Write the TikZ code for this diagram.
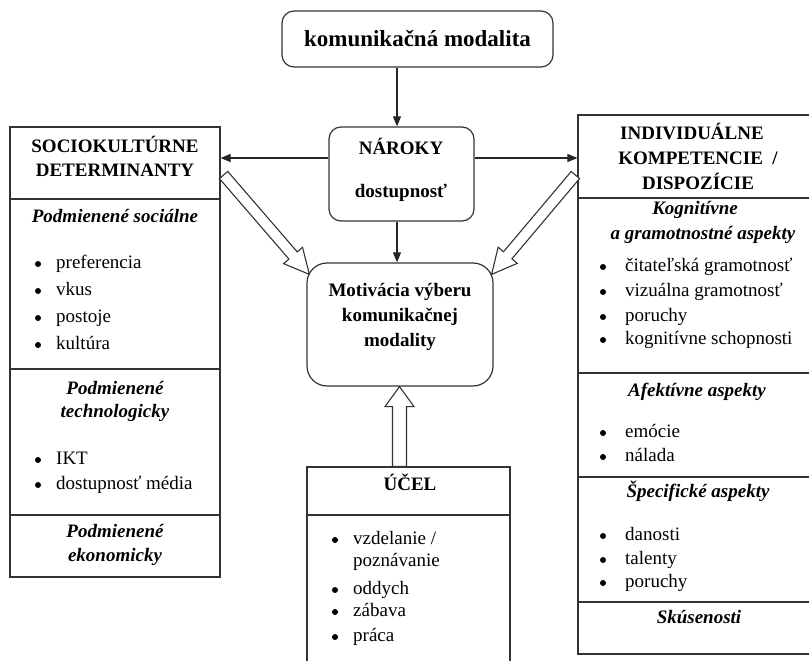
\documentclass[tikz,border=0pt]{standalone}
\usepackage{fontspec}
\setmainfont{Liberation Serif}
\usetikzlibrary{calc,arrows.meta}

% hollow block arrow: tail, tip, shaft half-width, head half-width, head length
\newcommand\hollowarrow[5]{%
  \coordinate (ha-h) at ($(#2)!#5!(#1)$);
  \draw[hollow] ($(#1)!#3!90:(#2)$) -- ($(ha-h)!#3!-90:(#1)$) -- ($(ha-h)!#4!-90:(#1)$)
    -- (#2) -- ($(ha-h)!#4!90:(#1)$) -- ($(ha-h)!#3!90:(#1)$) -- ($(#1)!#3!-90:(#2)$) -- cycle;}

\begin{document}
\begin{tikzpicture}[x=1pt,y=-1pt,
  box/.style={draw=black!80, line width=1.2pt, rectangle, inner sep=0pt},
  rbox/.style={box, rounded corners=12pt},
  txt/.style={inner sep=0pt, text height=13pt, text depth=4pt, font=\fontsize{19}{22}\selectfont},
  hd/.style={txt, font=\fontsize{19}{22}\selectfont\bfseries},
  sub/.style={txt, font=\fontsize{19}{22}\selectfont\bfseries\itshape},
  item/.style={txt, anchor=west},
  dot/.style={circle, fill=black, inner sep=0pt, minimum size=6pt},
  conn/.style={draw=black!85, line width=1.1pt, -{Triangle[length=10pt,width=8pt]}},
  hollow/.style={draw=black!80, line width=1.1pt, fill=white, line join=miter}]

\useasboundingbox (0,0) rectangle (809,661);

% ---- central column ----
\node[rbox, minimum width=271pt, minimum height=56pt,
      font=\fontsize{23}{26}\selectfont\bfseries] (top) at (417.5,39) {komunikačná modalita};

\node[rbox, minimum width=145pt, minimum height=94pt] (nar) at (401.5,174) {};
\node[hd] (narA) at (401,150) {NÁROKY};
\node[hd] (narB) at (401,193) {dostupnosť};

\node[box, rounded corners=20pt, minimum width=186pt, minimum height=123pt] (mot) at (400,324.5) {};
\node[hd] (motA) at (400,292) {Motivácia výberu};
\node[hd] (motB) at (400,317) {komunikačnej};
\node[hd] (motC) at (400,342) {modality};

% ---- left: sociocultural determinants ----
\node[box, minimum width=210pt, minimum height=72pt] (socHead) at (115,163) {};
\node[box, minimum width=210pt, minimum height=170pt] (socA) at (115,284) {};
\node[box, minimum width=210pt, minimum height=146pt] (socB) at (115,442) {};
\node[box, minimum width=210pt, minimum height=62pt] (socC) at (115,546) {};

\node[hd] (sh1) at (115,148) {SOCIOKULTÚRNE};
\node[hd] (sh2) at (115,172) {DETERMINANTY};
\node[sub] (sa0) at (115,218) {Podmienené sociálne};
\foreach \t/\y [count=\i] in {preferencia/264, vkus/291, postoje/318, kultúra/345}{
  \node[dot] (sad\i) at (38,\y) {};
  \node[item] (sa\i) at (56,\y) {\t};}
\node[sub] (sb0) at (115,390) {Podmienené};
\node[sub] (sb0b) at (115,413) {technologicky};
\foreach \t/\y [count=\i] in {IKT/460, dostupnosť média/485}{
  \node[dot] (sbd\i) at (38,\y) {};
  \node[item] (sb\i) at (56,\y) {\t};}
\node[sub] (sc0) at (115,533) {Podmienené};
\node[sub] (sc0b) at (115,557) {ekonomicky};

% ---- right: individual competences ----
\node[box, minimum width=238pt, minimum height=83pt] (indHead) at (697,156.5) {};
\node[box, minimum width=238pt, minimum height=175pt] (indA) at (697,285.5) {};
\node[box, minimum width=238pt, minimum height=104pt] (indB) at (697,425) {};
\node[box, minimum width=238pt, minimum height=125pt] (indC) at (697,539.5) {};
\node[box, minimum width=238pt, minimum height=52pt] (indD) at (697,628) {};

\node[hd] (ih1) at (692,135) {INDIVIDUÁLNE};
\node[hd] (ih2) at (698,160) {KOMPETENCIE\ \ /};
\node[hd] (ih3) at (698,185) {DISPOZÍCIE};
\node[sub] (ia0) at (695,210) {Kognitívne};
\node[sub] (ia0b) at (703,235) {a gramotnostné aspekty};
\foreach \t/\y [count=\i] in {čitateľská gramotnosť/267, vizuálna gramotnosť/292, poruchy/317, kognitívne schopnosti/340}{
  \node[dot] (iad\i) at (603,\y) {};
  \node[item] (ia\i) at (625,\y) {\t};}
\node[sub] (ib0) at (697,392) {Afektívne aspekty};
\foreach \t/\y [count=\i] in {emócie/433, nálada/457}{
  \node[dot] (ibd\i) at (603,\y) {};
  \node[item] (ib\i) at (625,\y) {\t};}
\node[sub] (ic0) at (698,493) {Špecifické aspekty};
\foreach \t/\y [count=\i] in {danosti/536, talenty/560, poruchy/583}{
  \node[dot] (icd\i) at (603,\y) {};
  \node[item] (ic\i) at (625,\y) {\t};}
\node[sub] (id0) at (699,619) {Skúsenosti};

% ---- bottom: purpose ----
\node[box, minimum width=203pt, minimum height=48pt] (ucelHead) at (408.5,491) {};
\node[box, minimum width=203pt, minimum height=160pt] (ucelBody) at (408.5,595) {};
\node[hd] (uh) at (410,486) {ÚČEL};
\node[dot] (ud1) at (335,540) {};
\node[item] (u1) at (353,540) {vzdelanie /};
\node[item] (u1b) at (353,562) {poznávanie};
\foreach \t/\y [count=\i from 2] in {oddych/590, zábava/612, práca/637}{
  \node[dot] (ud\i) at (335,\y) {};
  \node[item] (u\i) at (353,\y) {\t};}

% ---- connectors ----
\coordinate (vx) at (397,0);
\coordinate (hy) at (0,158);
\draw[conn] (top.south -| vx) -- (nar.north -| vx);
\draw[conn] (nar.south -| vx) -- (mot.north -| vx);
\draw[conn] (nar.west |- hy) -- (socHead.east |- hy);
\draw[conn] (nar.east |- hy) -- (indHead.west |- hy);

% block arrows into the motivation box
\coordinate (lt) at ($(socHead.east)+(3,12)$);
\coordinate (ltip) at ($(mot.north west)+(3,12)$);
\coordinate (rt) at ($(indHead.west)+(-2,18.5)$);
\coordinate (rtip) at ($(mot.north east)+(-2,12)$);
\coordinate (bt) at (ucelHead.north -| vx);
\coordinate (btip) at (mot.south -| vx);
\hollowarrow{lt}{ltip}{5.5pt}{12.5pt}{25pt}
\hollowarrow{rt}{rtip}{5.5pt}{12.5pt}{25pt}
\coordinate (bt2) at ($(bt)+(2.5,0)$);
\coordinate (btip2) at ($(btip)+(2.5,0)$);
\hollowarrow{bt2}{btip2}{7pt}{14.5pt}{20pt}
\end{tikzpicture}
\end{document}
